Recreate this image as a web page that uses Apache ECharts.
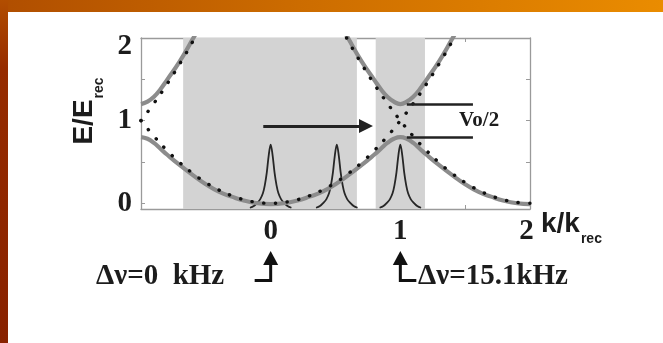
<!DOCTYPE html>
<html><head><meta charset="utf-8">
<script src="https://cdn.jsdelivr.net/npm/echarts@6/dist/echarts.min.js"></script>
<style>html,body{margin:0;padding:0;background:#fff}#c{width:663px;height:343px}</style>
</head><body><div id="c"></div>
<script>
// ---- data ----
const xTickLabels = [0, 1, 2];
const yTickLabels = [0, 1, 2];
const yTickValues = [0, 0.5, 1, 1.5, 2];
const shadeRanges = [[-0.675, 0.665], [0.81, 1.19]];

// lower band (solid gray)
const kLower = [-1,-0.95,-0.9,-0.85,-0.8,-0.7,-0.6,-0.5,-0.4,-0.3,-0.2,-0.1,0,0.1,0.2,0.3,0.4,0.5,0.6,0.7,0.8,0.85,0.9,0.95,1,1.05,1.1,1.15,1.2,1.3,1.4,1.5,1.6,1.7,1.8,1.9,2];
const eLower = [0.8,0.78,0.73,0.66,0.59,0.46,0.34,0.23,0.14,0.08,0.03,0.0,-0.01,0.0,0.03,0.08,0.14,0.23,0.34,0.46,0.59,0.66,0.73,0.78,0.8,0.78,0.73,0.66,0.59,0.46,0.34,0.23,0.14,0.08,0.03,0.0,-0.01];
// upper band, left branch
const kUpperL = [-1,-0.95,-0.9,-0.85,-0.8,-0.7,-0.6,-0.5];
const eUpperL = [1.2,1.23,1.29,1.38,1.49,1.72,1.99,2.27];
// upper band, centre branch
const kUpperC = [0.5,0.6,0.7,0.8,0.85,0.9,0.95,1,1.05,1.1,1.15,1.2,1.3,1.4,1.5];
const eUpperC = [2.27,1.99,1.72,1.49,1.38,1.29,1.23,1.2,1.23,1.29,1.38,1.49,1.72,1.99,2.27];

// free-particle parabolas (dotted)
const kFree = [-1,-0.9,-0.8,-0.7,-0.6,-0.5,-0.4,-0.3,-0.2,-0.1,0,0.1,0.2,0.3,0.4,0.5,0.6,0.7,0.8,0.9,1,1.1,1.2,1.3,1.4,1.5];
const eFree = [1,0.81,0.64,0.49,0.36,0.25,0.16,0.09,0.04,0.01,0,0.01,0.04,0.09,0.16,0.25,0.36,0.49,0.64,0.81,1,1.21,1.44,1.69,1.96,2.25];
const kFreeL = [-1,-0.9,-0.8,-0.7,-0.6,-0.5];
const eFreeL = [1,1.21,1.44,1.69,1.96,2.25];
const kFreeR = [0.5,0.6,0.7,0.8,0.9,1,1.1,1.2,1.3,1.4,1.5,1.6,1.7,1.8,1.9,2];
const eFreeR = [2.25,1.96,1.69,1.44,1.21,1,0.81,0.64,0.49,0.36,0.25,0.16,0.09,0.04,0.01,0];

// spectral peaks
const peakCenters = [0, 0.51, 1.0];
const peakOffsets = [-0.16,-0.13,-0.1,-0.08,-0.06,-0.045,-0.03,-0.015,0,0.015,0.03,0.045,0.06,0.08,0.1,0.13,0.16];
const peakShape = [-0.055,-0.035,0.01,0.05,0.12,0.22,0.37,0.58,0.71,0.58,0.37,0.22,0.12,0.05,0.01,-0.035,-0.055];

// annotations
const arrowFrom = [-0.057, 0.935];
const arrowTo = [0.735, 0.935];
const gapLines = [[[1.05, 1.2], [1.56, 1.2]], [[1.05, 0.8], [1.56, 0.8]]];
const gapLabel = 'Vo/2';
const gapLabelAt = [1.453, 1.0];
const leftNote = 'Δν=0  kHz';
const rightNote = 'Δν=15.1kHz';
const noteMarks = [0, 1];

// ---- chart ----
const zip = (a, b) => a.map((v, i) => [v, b[i]]);
const chart = echarts.init(document.getElementById('c'), null, {renderer: 'canvas'});
const serif = '"Liberation Serif", "Times New Roman", serif';
const sans = '"Liberation Sans", Arial, sans-serif';
const ink = '#1c1c1c';
const frame = '#9a9a9a';

const axisCommon = {
  type: 'value', min: -1, max: 2, interval: 0.5,
  axisLine: {show: true, onZero: false, lineStyle: {color: frame, width: 1.3}},
  axisTick: {show: true, inside: true, length: 4, lineStyle: {color: frame}},
  splitLine: {show: false}
};
const yCommon = {
  type: 'value', min: -0.07, max: 2,
  axisLine: {show: true, onZero: false, lineStyle: {color: frame, width: 1.3}},
  axisTick: {show: true, inside: true, length: 4, customValues: yTickValues, lineStyle: {color: frame}},
  splitLine: {show: false}
};

const bandStyle = {type: 'line', smooth: true, showSymbol: false, symbol: 'none', z: 3,
  lineStyle: {color: '#8c8c8c', width: 4.2}, silent: true};
const dotStyle = {type: 'line', smooth: true, showSymbol: false, symbol: 'none', z: 4,
  lineStyle: {color: '#111', width: 3.4, type: [0.2, 11.5], cap: 'round'}, silent: true};

const series = [
  {type: 'line', data: [], z: 1, silent: true,
   markArea: {silent: true, itemStyle: {color: '#d3d3d3', opacity: 1},
     data: shadeRanges.map(r => [{xAxis: r[0]}, {xAxis: r[1]}])}},
  ...peakCenters.map(c => ({type: 'line', smooth: 0.35, showSymbol: false, symbol: 'none', z: 2, silent: true,
    lineStyle: {color: '#262626', width: 1.8},
    data: peakOffsets.map((d, i) => [c + d, peakShape[i]])})),
  Object.assign({data: zip(kLower, eLower)}, bandStyle),
  Object.assign({data: zip(kUpperL, eUpperL)}, bandStyle),
  Object.assign({data: zip(kUpperC, eUpperC)}, bandStyle),
  Object.assign({data: zip(kFree, eFree)}, dotStyle),
  Object.assign({data: zip(kFreeL, eFreeL)}, dotStyle),
  Object.assign({data: zip(kFreeR, eFreeR)}, dotStyle),
  {type: 'line', data: [], z: 5, silent: true,
   markLine: {silent: true, symbol: ['none', 'triangle'], symbolSize: 14, animation: false,
     label: {show: false}, lineStyle: {color: '#222', width: 3, type: 'solid'},
     emphasis: {disabled: true},
     data: [[{coord: arrowFrom}, {coord: arrowTo}]]}},
  {type: 'line', data: [], z: 5, silent: true,
   markLine: {silent: true, symbol: 'none', animation: false,
     label: {show: false}, lineStyle: {color: '#222', width: 2.6, type: 'solid'},
     emphasis: {disabled: true},
     data: gapLines.map(l => [{coord: l[0]}, {coord: l[1]}])}}
];

chart.setOption({
  animation: false,
  backgroundColor: '#fff',
  grid: {left: 141, right: 133, top: 38, bottom: 134, outerBoundsMode: 'none', containLabel: false},
  xAxis: [
    Object.assign({}, axisCommon, {position: 'bottom',
      axisLabel: {show: true, customValues: xTickLabels, margin: 8, color: ink,
        formatter: v => v === 2 ? '{r|2}' : '{n|' + v + '}',
        rich: {
          n: {fontFamily: serif, fontWeight: 'bold', fontSize: 29, lineHeight: 29, color: ink},
          r: {fontFamily: serif, fontWeight: 'bold', fontSize: 29, lineHeight: 29, color: ink, padding: [0, 7, 0, 0]}
        }}}),
    Object.assign({}, axisCommon, {position: 'top', axisLabel: {show: false}})
  ],
  yAxis: [
    Object.assign({}, yCommon, {position: 'left',
      axisLabel: {show: true, customValues: yTickLabels, margin: 9, color: ink,
        formatter: v => v === 2 ? '{d|2}' : '{n|' + v + '}',
        rich: {
          n: {fontFamily: serif, fontWeight: 'bold', fontSize: 29, lineHeight: 29, color: ink},
          d: {fontFamily: serif, fontWeight: 'bold', fontSize: 29, lineHeight: 29, color: ink, padding: [18, 0, 0, 0]}
        }}}),
    Object.assign({}, yCommon, {position: 'right', axisLabel: {show: false}})
  ],
  series: series
});

// ---- decorations and text placed from the axes ----
const px = v => chart.convertToPixel({xAxisIndex: 0}, v);
const labelPos = chart.convertToPixel({xAxisIndex: 0, yAxisIndex: 0}, gapLabelAt);
const g = [
  {type: 'rect', z: -10, silent: true, shape: {x: 0, y: 0, width: 663, height: 12},
   style: {fill: new echarts.graphic.LinearGradient(0, 0, 1, 0, [
     {offset: 0, color: '#b04e00'}, {offset: 0.45, color: '#cc6c00'}, {offset: 1, color: '#ea8c00'}])}},
  {type: 'rect', z: -10, silent: true, shape: {x: 0, y: 0, width: 8, height: 343},
   style: {fill: new echarts.graphic.LinearGradient(0, 0, 0, 1, [
     {offset: 0, color: '#b24e00'}, {offset: 0.2, color: '#962c00'}, {offset: 1, color: '#882200'}])}},
  {type: 'text', silent: true, x: 87, y: 111, rotation: Math.PI / 2,
   style: {text: '{a|E/E}{b|rec}', align: 'center', verticalAlign: 'middle',
     rich: {a: {font: 'bold 28px ' + sans, fill: ink, lineHeight: 34, verticalAlign: 'top'},
            b: {font: 'bold 14px ' + sans, fill: ink, lineHeight: 14, verticalAlign: 'top', padding: [22, 0, 0, 1]}}}},
  {type: 'text', silent: true, x: px(2) + 11, y: 210,
   style: {text: '{a|k/k}{b|rec}', align: 'left', verticalAlign: 'top',
     rich: {a: {font: 'bold 28px ' + sans, fill: ink, lineHeight: 34, verticalAlign: 'top'},
            b: {font: 'bold 14px ' + sans, fill: ink, lineHeight: 14, verticalAlign: 'top', padding: [22, 0, 0, 1]}}}},
  {type: 'text', silent: true, x: labelPos[0], y: labelPos[1],
   style: {text: gapLabel, font: 'bold 21px ' + serif, fill: ink, align: 'left', verticalAlign: 'middle'}},
  {type: 'text', silent: true, x: 96, y: 277,
   style: {text: leftNote, font: 'bold 29px ' + serif, fill: ink, align: 'left', verticalAlign: 'middle'}},
  {type: 'text', silent: true, x: 418, y: 277,
   style: {text: rightNote, font: 'bold 29px ' + serif, fill: ink, align: 'left', verticalAlign: 'middle'}}
];
noteMarks.forEach((v, i) => {
  const x = px(v);
  const dir = i === 0 ? -1 : 1;
  g.push({type: 'polygon', silent: true, shape: {points: [[x - 7.5, 265], [x + 7.5, 265], [x, 251]]}, style: {fill: '#111'}});
  g.push({type: 'polyline', silent: true, shape: {points: [[x, 264], [x, 280.5], [x + dir * 16, 280.5]]},
          style: {stroke: '#111', lineWidth: 3, fill: null}});
});
chart.setOption({graphic: g});
</script>
</body></html>
